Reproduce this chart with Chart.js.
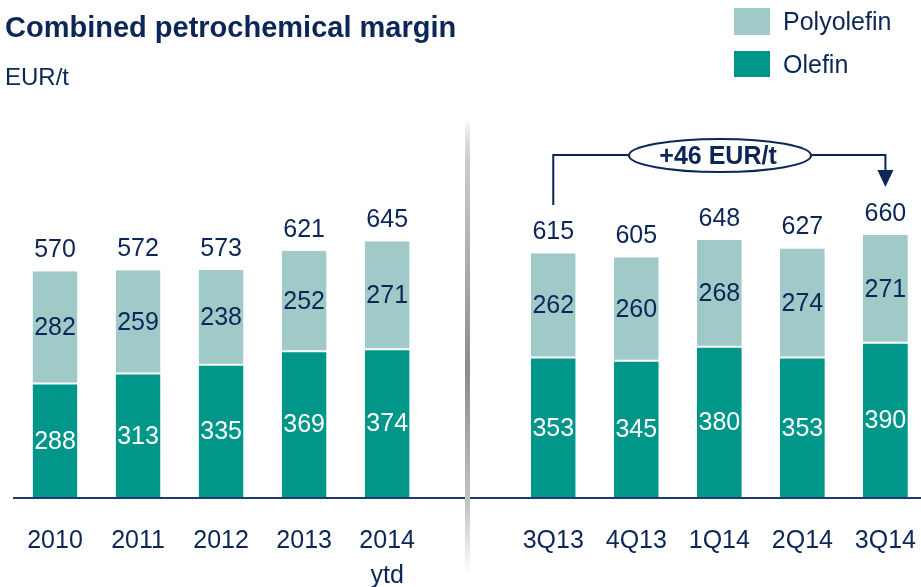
<!DOCTYPE html>
<html>
<head>
<meta charset="utf-8">
<script src="https://cdn.jsdelivr.net/npm/chart.js@4.4.1/dist/chart.umd.min.js"></script>
<style>
  html, body { margin: 0; padding: 0; background: #fff; overflow: hidden; }
  #wrap { width: 934px; height: 587px; position: relative; }
</style>
</head>
<body>
<div id="wrap"><canvas id="chart"></canvas></div>
<script>
// data
const categories = ['2010', '2011', '2012', '2013', ['2014', 'ytd'], '', '3Q13', '4Q13', '1Q14', '2Q14', '3Q14'];
const olefin = [288, 313, 335, 369, 374, null, 353, 345, 380, 353, 390];
const polyolefin = [282, 259, 238, 252, 271, null, 262, 260, 268, 274, 271];
const totals = [570, 572, 573, 621, 645, null, 615, 605, 648, 627, 660];

const navy = '#0b2657';
const dark = '#00968a';
const light = '#a0cac8';
const font = '"Liberation Sans", Arial, sans-serif';

// labels, title, legend, separator, bracket
const extras = {
  id: 'extras',
  afterDatasetsDraw(chart) {
    const ctx = chart.ctx;
    const x = chart.scales.x;
    const y = chart.scales.y;
    ctx.save();

    // segment labels
    ctx.textAlign = 'center';
    ctx.textBaseline = 'middle';
    ctx.font = '25px ' + font;
    chart.getDatasetMeta(0).data.forEach((bar, i) => {
      if (olefin[i] == null) return;
      ctx.fillStyle = '#fff';
      ctx.fillText(olefin[i], bar.x, (bar.y + bar.base) / 2 + 1);
    });
    chart.getDatasetMeta(1).data.forEach((bar, i) => {
      if (polyolefin[i] == null) return;
      ctx.fillStyle = navy;
      ctx.fillText(polyolefin[i], bar.x, (bar.y + bar.base) / 2 + 1);
      ctx.fillText(totals[i], bar.x, y.getPixelForValue(totals[i]) - 21);
    });

    // baseline
    ctx.strokeStyle = '#1f3a6e';
    ctx.lineWidth = 2;
    ctx.beginPath();
    ctx.moveTo(13, y.bottom);
    ctx.lineTo(921, y.bottom);
    ctx.stroke();

    // separator
    const g = ctx.createLinearGradient(0, 118, 0, 575);
    g.addColorStop(0, 'rgba(160,160,160,0)');
    g.addColorStop(0.12, '#c8c8c8');
    g.addColorStop(0.55, '#8c8c8c');
    g.addColorStop(0.85, '#c4c4c4');
    g.addColorStop(1, 'rgba(200,200,200,0)');
    ctx.fillStyle = g;
    ctx.fillRect(465, 118, 5, 457);

    // title
    ctx.textAlign = 'left';
    ctx.fillStyle = navy;
    ctx.font = 'bold 29px ' + font;
    ctx.fillText('Combined petrochemical margin', 5, 29);
    ctx.font = '24px ' + font;
    ctx.fillText('EUR/t', 5, 78);

    // legend
    ctx.fillStyle = light;
    ctx.fillRect(734, 8, 36, 27);
    ctx.fillStyle = dark;
    ctx.fillRect(734, 51, 36, 26);
    ctx.fillStyle = navy;
    ctx.font = '25px ' + font;
    ctx.fillText('Polyolefin', 783, 23);
    ctx.fillText('Olefin', 783, 66);

    // +46 EUR/t bracket
    const x0 = x.getPixelForValue(6);
    const x1 = x.getPixelForValue(10);
    const yl = 155;
    ctx.strokeStyle = navy;
    ctx.lineWidth = 2;
    ctx.beginPath();
    ctx.moveTo(x0, 205);
    ctx.lineTo(x0, yl);
    ctx.lineTo(640, yl);
    ctx.moveTo(800, yl);
    ctx.lineTo(x1, yl);
    ctx.lineTo(x1, 172);
    ctx.stroke();
    ctx.fillStyle = navy;
    ctx.beginPath();
    ctx.moveTo(x1 - 8, 170);
    ctx.lineTo(x1 + 8, 170);
    ctx.lineTo(x1, 187);
    ctx.closePath();
    ctx.fill();
    ctx.beginPath();
    ctx.ellipse(720, 155.5, 91, 16.5, 0, 0, Math.PI * 2);
    ctx.fillStyle = '#fff';
    ctx.fill();
    ctx.lineWidth = 2;
    ctx.stroke();
    ctx.fillStyle = navy;
    ctx.textAlign = 'center';
    ctx.font = 'bold 25px ' + font;
    ctx.fillText('+46 EUR/t', 718, 157);

    ctx.restore();
  }
};

new Chart(document.getElementById('chart'), {
  type: 'bar',
  data: {
    labels: categories,
    datasets: [
      { label: 'Olefin', data: olefin, backgroundColor: dark, borderColor: '#fff', borderWidth: { top: 1 }, borderSkipped: false },
      { label: 'Polyolefin', data: polyolefin, backgroundColor: light, borderColor: '#fff', borderWidth: { bottom: 1 }, borderSkipped: false }
    ]
  },
  options: {
    responsive: true,
    maintainAspectRatio: false,
    animation: false,
    layout: { padding: { left: 13.5, right: 0, top: 100, bottom: 0 } },
    datasets: { bar: { barPercentage: 0.54, categoryPercentage: 1 } },
    plugins: { legend: { display: false }, tooltip: { enabled: false } },
    scales: {
      x: {
        stacked: true,
        grid: { display: false },
        border: { display: false },
        ticks: { color: navy, font: { family: font, size: 25, lineHeight: 1.38 }, padding: 18, maxRotation: 0, autoSkip: false },
        afterFit(s) { s.height = 89; }
      },
      y: {
        stacked: true,
        display: false,
        min: 0,
        max: 1000
      }
    }
  },
  plugins: [extras]
});
</script>
</body>
</html>
